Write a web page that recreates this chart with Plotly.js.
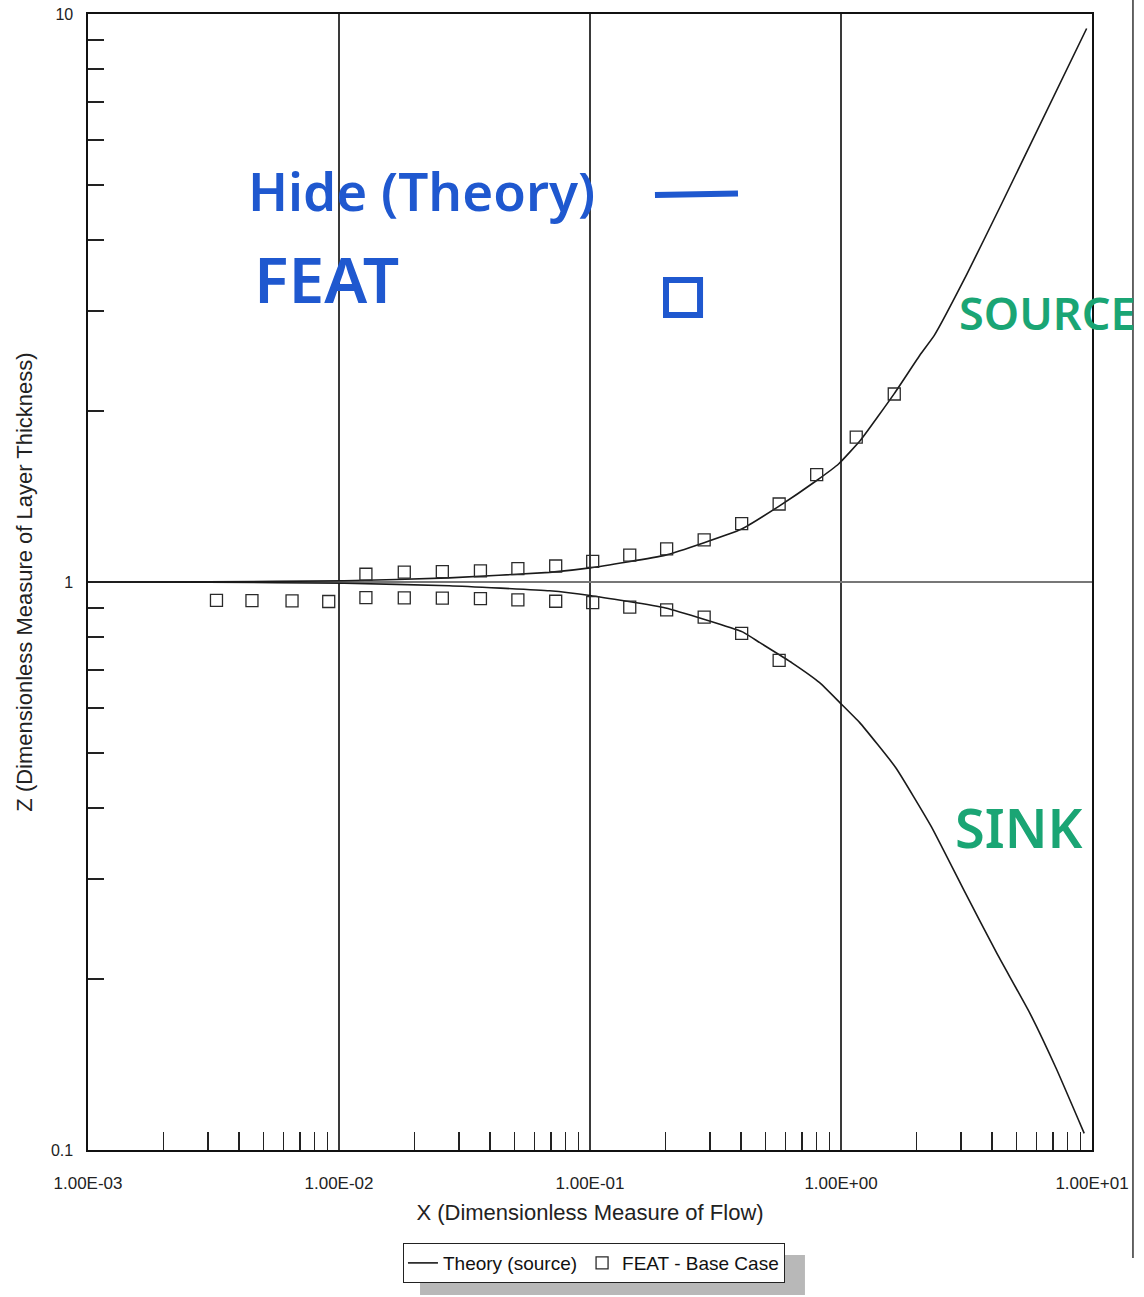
<!DOCTYPE html>
<html>
<head>
<meta charset="utf-8">
<script src="https://cdn.plot.ly/plotly-3.0.1.min.js"></script>
<style>html,body{margin:0;padding:0;background:#fff;}#chart{width:1144px;height:1297px;}</style>
</head>
<body>
<div id="chart"></div>
<script>
// Theory curves
const sourceX = [0.001, 0.003, 0.0105, 0.0275, 0.069, 0.1, 0.2, 0.4, 0.565, 0.8, 0.98, 1.2, 1.63, 2.08, 2.35, 3.17, 4.34, 9.52];
const sourceZ = [1.0, 1.001, 1.005, 1.017, 1.04, 1.059, 1.115, 1.238, 1.359, 1.509, 1.615, 1.78, 2.146, 2.523, 2.715, 3.48, 4.61, 9.43];
const sinkX = [0.001, 0.003, 0.0105, 0.0275, 0.069, 0.1, 0.2, 0.405, 0.475, 0.64, 0.822, 0.987, 1.185, 1.653, 2.29, 3.11, 4.20, 5.66, 7.21, 9.31];
const sinkZ = [1.0, 0.999, 0.995, 0.985, 0.965, 0.947, 0.900, 0.817, 0.782, 0.72, 0.665, 0.614, 0.566, 0.471, 0.371, 0.285, 0.221, 0.174, 0.139, 0.107];

// FEAT - Base Case squares
const featUpperX = [0.0128, 0.0182, 0.0258, 0.0366, 0.0516, 0.073, 0.1025, 0.144, 0.202, 0.285, 0.402, 0.567, 0.80, 1.15, 1.63];
const featUpperZ = [1.032, 1.041, 1.043, 1.046, 1.056, 1.067, 1.087, 1.115, 1.144, 1.186, 1.267, 1.372, 1.545, 1.799, 2.143];
const featLowerX = [0.00325, 0.0045, 0.0065, 0.0091, 0.0128, 0.0182, 0.0258, 0.0366, 0.0516, 0.073, 0.1025, 0.144, 0.202, 0.285, 0.402, 0.567];
const featLowerZ = [0.928, 0.927, 0.926, 0.924, 0.939, 0.938, 0.937, 0.935, 0.930, 0.925, 0.920, 0.903, 0.893, 0.867, 0.812, 0.728];

// Axis ticks
const xTickVals = [0.001, 0.01, 0.1, 1, 10];
const xTickText = ["1.00E-03", "1.00E-02", "1.00E-01", "1.00E+00", "1.00E+01"];
const yTickVals = [0.1, 1, 10];
const yTickText = ["0.1", "1", "10"];

function minorTicks(decades) {
  const out = [];
  decades.forEach(d => { for (let k = 2; k <= 9; k++) out.push(k * Math.pow(10, d)); });
  return out;
}
const xMinor = minorTicks([-3, -2, -1, 0]);
const yMinor = minorTicks([-1, 0]);

const FONT = "Liberation Sans, Arial, sans-serif";
const HAND = "Noto Sans, DejaVu Sans, sans-serif";
const BLUE = "#1f58cf";
const GREEN = "#1aa574";

const traces = [
  {x: sourceX, y: sourceZ, type: "scatter", mode: "lines", name: "Theory (source)",
   line: {color: "#1a1a1a", width: 1.6, shape: "spline", smoothing: 0.4}},
  {x: featUpperX, y: featUpperZ, type: "scatter", mode: "markers", name: "FEAT - Base Case",
   legendgroup: "feat",
   marker: {symbol: "square-open", size: 12, color: "#2a2a2a", line: {width: 1.3, color: "#2a2a2a"}}},
  {x: sinkX, y: sinkZ, type: "scatter", mode: "lines", name: "Theory (sink)", showlegend: false,
   line: {color: "#1a1a1a", width: 1.6, shape: "spline", smoothing: 0.4}},
  {x: featLowerX, y: featLowerZ, type: "scatter", mode: "markers", name: "FEAT - Base Case",
   legendgroup: "feat", showlegend: false,
   marker: {symbol: "square-open", size: 12, color: "#2a2a2a", line: {width: 1.3, color: "#2a2a2a"}}}
];

const layout = {
  width: 1144, height: 1297,
  margin: {l: 88, r: 52, t: 14, b: 147},
  paper_bgcolor: "#ffffff", plot_bgcolor: "#ffffff",
  font: {family: FONT, color: "#222"},
  showlegend: true,
  legend: {orientation: "h", x: 0.3137, y: -0.0819, xanchor: "left", yanchor: "top",
           bgcolor: "#ffffff", bordercolor: "#222", borderwidth: 1,
           font: {family: FONT, size: 19, color: "#111"}, itemwidth: 30},
  xaxis: {
    type: "log", range: [-3, 1],
    tickmode: "array", tickvals: xTickVals, ticktext: xTickText,
    ticks: "", ticklabelstandoff: 17,
    tickfont: {family: FONT, size: 17, color: "#222"},
    showgrid: true, gridcolor: "#3a3a3a", gridwidth: 1.2,
    showline: true, linecolor: "#111", linewidth: 1.6, mirror: true,
    zeroline: false,
    minor: {tickmode: "array", tickvals: xMinor, ticks: "inside", ticklen: 18, tickwidth: 1.5, tickcolor: "#222", showgrid: false},
    title: {text: "X (Dimensionless Measure of Flow)", font: {family: FONT, size: 22, color: "#222"}, standoff: 12}
  },
  yaxis: {
    type: "log", range: [-1, 1],
    tickmode: "array", tickvals: yTickVals, ticktext: yTickText,
    ticks: "", ticklabelstandoff: 10,
    tickfont: {family: FONT, size: 16, color: "#222"},
    showgrid: true, gridcolor: "#777", gridwidth: 1.2,
    showline: true, linecolor: "#111", linewidth: 1.6, mirror: true,
    zeroline: false,
    minor: {tickmode: "array", tickvals: yMinor, ticks: "inside", ticklen: 16, tickwidth: 1.5, tickcolor: "#222", showgrid: false},
    title: {text: "Z (Dimensionless Measure of Layer Thickness)", font: {family: FONT, size: 22, color: "#222"}, standoff: 12}
  },
  shapes: [
    // legend drop shadow
    {type: "rect", xref: "paper", yref: "paper", x0: 0.3307, x1: 0.7141, y0: -0.1276, y1: -0.0924,
     fillcolor: "#b8b8b8", line: {width: 0}, layer: "below"},
    // handwritten legend marks
    {type: "line", xref: "paper", yref: "paper", x0: 0.5647, x1: 0.6474, y0: 0.8407, y1: 0.8420,
     line: {color: BLUE, width: 6}},
    {type: "rect", xref: "paper", yref: "paper", x0: 0.5757, x1: 0.6096, y0: 0.7350, y1: 0.7658,
     line: {color: BLUE, width: 6}},
    // page edge line from the scan
    {type: "line", xref: "paper", yref: "paper", x0: 1.0408, x1: 1.0408, y0: -0.095, y1: 1.013,
     line: {color: "#333", width: 1.5}}
  ],
  annotations: [
    {xref: "paper", yref: "paper", x: 0.3317, y: 0.845, xanchor: "center", yanchor: "middle",
     text: "Hide (Theory)", showarrow: false,
     font: {family: HAND, size: 53, color: BLUE, weight: 600}},
    {xref: "paper", yref: "paper", x: 0.2371, y: 0.7676, xanchor: "center", yanchor: "middle",
     text: "FEAT", showarrow: false,
     font: {family: HAND, size: 64, color: BLUE, weight: 600}},
    {xref: "paper", yref: "paper", x: 0.8655, y: 0.7368, xanchor: "left", yanchor: "middle",
     text: "SOURCE", showarrow: false,
     font: {family: HAND, size: 45, color: GREEN, weight: 600}},
    {xref: "paper", yref: "paper", x: 0.9273, y: 0.2843, xanchor: "center", yanchor: "middle",
     text: "SINK", showarrow: false,
     font: {family: HAND, size: 54, color: GREEN, weight: 600}}
  ]
};

Plotly.newPlot("chart", traces, layout, {displayModeBar: false, staticPlot: true});
</script>
</body>
</html>
